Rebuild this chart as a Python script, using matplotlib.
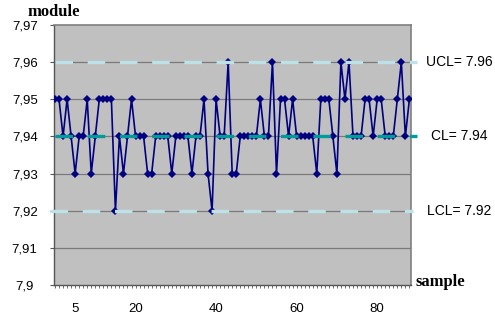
import matplotlib
matplotlib.use('Agg')
import matplotlib.pyplot as plt
import matplotlib.transforms as mtransforms
from matplotlib.ticker import MultipleLocator, FixedLocator

samples = list(range(89))
module = [7.95, 7.95, 7.94, 7.95, 7.94, 7.93, 7.94, 7.94, 7.95, 7.93,
          7.94, 7.95, 7.95, 7.95, 7.95, 7.92, 7.94, 7.93, 7.94, 7.95,
          7.94, 7.94, 7.94, 7.93, 7.93, 7.94, 7.94, 7.94, 7.94, 7.93,
          7.94, 7.94, 7.94, 7.94, 7.93, 7.94, 7.94, 7.95, 7.93, 7.92,
          7.95, 7.94, 7.94, 7.96, 7.93, 7.93, 7.94, 7.94, 7.94, 7.94,
          7.94, 7.95, 7.94, 7.94, 7.96, 7.93, 7.95, 7.95, 7.94, 7.95,
          7.94, 7.94, 7.94, 7.94, 7.94, 7.93, 7.95, 7.95, 7.95, 7.94,
          7.93, 7.96, 7.95, 7.96, 7.94, 7.94, 7.94, 7.95, 7.95, 7.94,
          7.95, 7.95, 7.94, 7.94, 7.94, 7.95, 7.96, 7.94, 7.95]

# control limits
ucl, cl, lcl = 7.96, 7.94, 7.92
limit_labels = ['UCL= 7.96', 'CL= 7.94', 'LCL= 7.92']

x_ticks = [5, 20, 40, 60, 80]
y_ticks = [7.90, 7.91, 7.92, 7.93, 7.94, 7.95, 7.96, 7.97]
y_tick_labels = ['7,9', '7,91', '7,92', '7,93', '7,94', '7,95', '7,96', '7,97']

plt.rcParams['font.family'] = ['Liberation Sans', 'DejaVu Sans']
plt.rcParams['lines.scale_dashes'] = False

fig = plt.figure(figsize=(4.95, 3.15), dpi=100)
ax = fig.add_axes([54/495, 30/315, 357/495, 260/315])
ax.set_facecolor('#C0C0C0')

# horizontal gridlines
for v in y_ticks[1:-1]:
    ax.axhline(v, color='#7A7A7A', lw=0.9, zorder=1)

ax.plot(samples, module, color='#000080', lw=1.2, marker='D', ms=3.8,
        markeredgewidth=0, zorder=3)

# control limit lines (drawn over the data, spill a bit past the plot area)
dash = (0, (12.6, 10.6))
ax.plot([samples[0], samples[-1] + 2], [ucl, ucl], color='#BCE2E8', lw=2.4,
        linestyle=dash, dash_capstyle='butt', zorder=4, clip_on=False)
ax.plot([samples[0], samples[-1] + 2], [cl, cl], color='#009C9C', lw=2.4,
        linestyle=dash, dash_capstyle='butt', zorder=4, clip_on=False)
ax.plot([samples[0] - 1.25, samples[-1] + 1], [lcl, lcl], color='#BCE2E8', lw=2.4,
        linestyle=dash, dash_capstyle='butt', zorder=4, clip_on=False)

ax.set_xlim(-0.25, 88.4)
ax.set_ylim(7.90, 7.97)

ax.xaxis.set_major_locator(FixedLocator(x_ticks))
ax.xaxis.set_minor_locator(MultipleLocator(1))
ax.set_xticklabels([str(t) for t in x_ticks])
ax.set_yticks(y_ticks)
ax.set_yticklabels(y_tick_labels)
for lab in ax.get_yticklabels():
    lab.set_horizontalalignment('center')

ax.tick_params(axis='x', which='both', direction='out', length=2.2, width=0.6,
               color='#555555', labelsize=9.5, pad=10.5)
ax.tick_params(axis='y', which='major', direction='out', length=2.6, width=0.8,
               color='#555555', labelsize=9.5, pad=18.5)

for side in ['top', 'right']:
    ax.spines[side].set_color('#808080')
    ax.spines[side].set_linewidth(1.2)
for side in ['left', 'bottom']:
    ax.spines[side].set_color('#555555')
    ax.spines[side].set_linewidth(1.0)

# labels for the control limits at right
trans = mtransforms.blended_transform_factory(ax.transAxes, ax.transData)
for val, txt in zip([ucl, cl, lcl], limit_labels):
    ax.text(1.134, val, txt, transform=trans, ha='center', va='center', fontsize=10)

fig.text(28/495, (315-16)/315, 'module', fontsize=12, fontweight='bold',
         family='Liberation Serif', ha='left', va='baseline')
fig.text(416/495, (315-286)/315, 'sample', fontsize=12, fontweight='bold',
         family='Liberation Serif', ha='left', va='baseline')

fig.savefig('out.png', dpi=100)
